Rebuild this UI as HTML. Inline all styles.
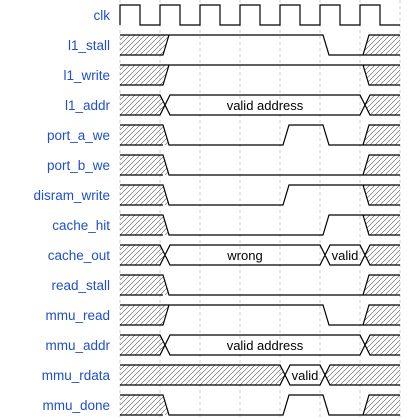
<!DOCTYPE html>
<html><head><style>
html,body{margin:0;padding:0;background:#fff;width:420px;height:420px;overflow:hidden}
svg{display:block}
.l{font-family:"Liberation Sans",sans-serif;font-size:13.5px;fill:#1f4fd0;text-anchor:end}
.d{font-family:"Liberation Sans",sans-serif;font-size:13px;fill:#000;text-anchor:middle}
.w{fill:none;stroke:#000;stroke-width:1.2}
.h{fill:url(#hp);stroke:none}
.g{stroke:#ccc;stroke-width:1;stroke-dasharray:3,3}
</style></head><body>
<svg width="420" height="420" viewBox="0 0 420 420" xmlns="http://www.w3.org/2000/svg">
<defs>
<pattern id="hp" patternUnits="userSpaceOnUse" width="5" height="5">
<path d="M-1,6 L6,-1 M-1,1 L1,-1 M4,6 L6,4" stroke="#555" stroke-width="0.6"/>
</pattern>
</defs>
<g>
<line class="g" x1="120" y1="0" x2="120" y2="420"/>
<line class="g" x1="160" y1="0" x2="160" y2="420"/>
<line class="g" x1="200" y1="0" x2="200" y2="420"/>
<line class="g" x1="240" y1="0" x2="240" y2="420"/>
<line class="g" x1="280" y1="0" x2="280" y2="420"/>
<line class="g" x1="320" y1="0" x2="320" y2="420"/>
<line class="g" x1="360" y1="0" x2="360" y2="420"/>
<line class="g" x1="400" y1="0" x2="400" y2="420"/>
</g>
<g>
<text class="l" x="110" y="20">clk</text>
<text class="l" x="110" y="50">l1_stall</text>
<text class="l" x="110" y="80">l1_write</text>
<text class="l" x="110" y="110">l1_addr</text>
<text class="l" x="110" y="140">port_a_we</text>
<text class="l" x="110" y="170">port_b_we</text>
<text class="l" x="110" y="200">disram_write</text>
<text class="l" x="110" y="230">cache_hit</text>
<text class="l" x="110" y="260">cache_out</text>
<text class="l" x="110" y="290">read_stall</text>
<text class="l" x="110" y="320">mmu_read</text>
<text class="l" x="110" y="350">mmu_addr</text>
<text class="l" x="110" y="380">mmu_rdata</text>
<text class="l" x="110" y="410">mmu_done</text>
</g>
<g>
<polygon class="h" points="120,35 169,35 163,55 120,55"/><polygon class="h" points="363,55 369,35 400,35 400,55"/>
<polygon class="h" points="120,65 169,65 163,85 120,85"/><polygon class="h" points="363,65 400,65 400,85 369,85"/>
<polygon class="h" points="120,95 160,95 165,105 160,115 120,115"/><polygon class="h" points="365,105 370,95 400,95 400,115 370,115"/>
<polygon class="h" points="120,125 163,125 169,145 120,145"/><polygon class="h" points="363,145 369,125 400,125 400,145"/>
<polygon class="h" points="120,155 163,155 169,175 120,175"/><polygon class="h" points="363,175 369,155 400,155 400,175"/>
<polygon class="h" points="120,185 163,185 169,205 120,205"/><polygon class="h" points="363,185 400,185 400,205 369,205"/>
<polygon class="h" points="120,215 163,215 169,235 120,235"/><polygon class="h" points="363,215 400,215 400,235 369,235"/>
<polygon class="h" points="120,245 160,245 165,255 160,265 120,265"/><polygon class="h" points="365,255 370,245 400,245 400,265 370,265"/>
<polygon class="h" points="120,275 163,275 169,295 120,295"/><polygon class="h" points="363,295 369,275 400,275 400,295"/>
<polygon class="h" points="120,305 169,305 163,325 120,325"/><polygon class="h" points="363,325 369,305 400,305 400,325"/>
<polygon class="h" points="120,335 160,335 165,345 160,355 120,355"/><polygon class="h" points="365,345 370,335 400,335 400,355 370,355"/>
<polygon class="h" points="120,365 280,365 285,375 280,385 120,385"/><polygon class="h" points="325,375 330,365 400,365 400,385 330,385"/>
<polygon class="h" points="120,395 163,395 169,415 120,415"/><polygon class="h" points="363,415 369,395 400,395 400,415"/>
</g>
<g>
<path class="w" d="M120,25 V5 H140 V25 H160 V5 H180 V25 H200 V5 H220 V25 H240 V5 H260 V25 H280 V5 H300 V25 H320 V5 H340 V25 H360 V5 H380 V25 H400"/>
<path class="w" d="M120,35 H323 L329,55 H363 L369,35 H400 M120,55 H163 L169,35 M363,55 H400"/>
<path class="w" d="M120,65 H400 M120,85 H163 L169,65 M363,65 L369,85 H400"/>
<path class="w" d="M120,95 H160 L170,115 H360 L370,95 H400 M120,115 H160 L170,95 H360 L370,115 H400"/>
<path class="w" d="M120,125 H163 L169,145 H283 L289,125 H323 L329,145 H363 L369,125 H400 M120,145 H163 M363,145 H400"/>
<path class="w" d="M120,155 H163 L169,175 H363 L369,155 H400 M120,175 H163 M363,175 H400"/>
<path class="w" d="M120,185 H163 L169,205 H283 L289,185 H400 M120,205 H163 M363,185 L369,205 H400"/>
<path class="w" d="M120,215 H163 L169,235 H323 L329,215 H400 M120,235 H163 M363,215 L369,235 H400"/>
<path class="w" d="M120,245 H160 L170,265 H320 L330,245 H360 L370,265 H400 M120,265 H160 L170,245 H320 L330,265 H360 L370,245 H400"/>
<path class="w" d="M120,275 H163 L169,295 H363 L369,275 H400 M120,295 H163 M363,295 H400"/>
<path class="w" d="M120,305 H323 L329,325 H363 L369,305 H400 M120,325 H163 L169,305 M363,325 H400"/>
<path class="w" d="M120,335 H160 L170,355 H360 L370,335 H400 M120,355 H160 L170,335 H360 L370,355 H400"/>
<path class="w" d="M120,365 H280 L290,385 H320 L330,365 H400 M120,385 H280 L290,365 H320 L330,385 H400"/>
<path class="w" d="M120,395 H163 L169,415 H283 L289,395 H323 L329,415 H363 L369,395 H400 M120,415 H163 M363,415 H400"/>
</g>
<g>
<text class="d" x="265" y="110">valid address</text>
<text class="d" x="245" y="260">wrong</text>
<text class="d" x="345" y="260">valid</text>
<text class="d" x="265" y="350">valid address</text>
<text class="d" x="305" y="380">valid</text>
</g>
</svg>
</body></html>
